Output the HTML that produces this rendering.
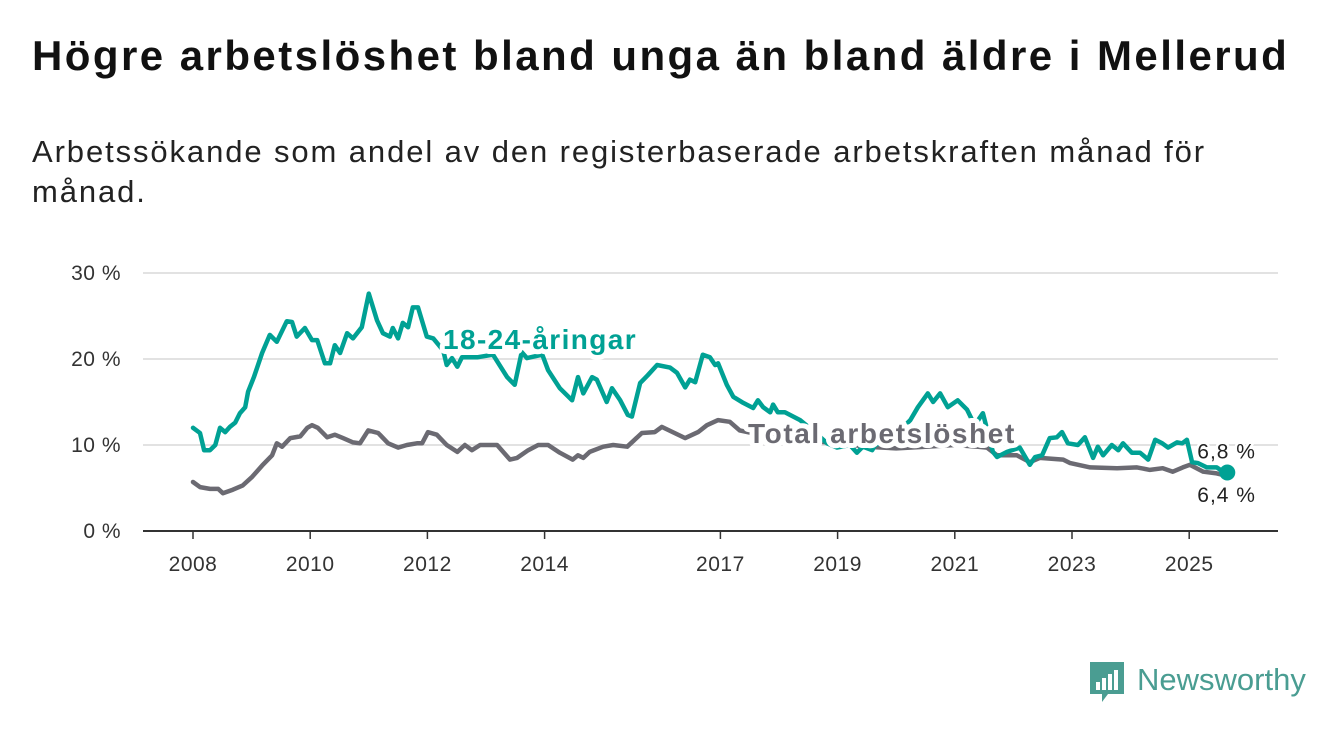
<!DOCTYPE html>
<html><head><meta charset="utf-8">
<style>
html,body{margin:0;padding:0;background:#fff;}
body{width:1340px;height:734px;overflow:hidden;position:relative;font-family:"Liberation Sans",sans-serif;color:#111;}
#title{position:absolute;left:32px;top:32px;font-size:42px;font-weight:bold;margin:0;letter-spacing:2.45px;white-space:nowrap;}
#subtitle{position:absolute;left:32px;top:132px;font-size:31px;line-height:40px;width:1300px;margin:0;color:#222;letter-spacing:1.9px;white-space:nowrap;}
svg{position:absolute;left:0;top:0;}
</style></head><body>
<h1 id="title">Högre arbetslöshet bland unga än bland äldre i Mellerud</h1>
<p id="subtitle">Arbetssökande som andel av den registerbaserade arbetskraften månad för<br>månad.</p>
<svg id="chart" width="1340" height="734"></svg>
<script>
const youthYears=[2008.00,2008.12,2008.19,2008.29,2008.38,2008.46,2008.55,2008.63,2008.72,2008.80,2008.89,2008.94,2009.04,2009.18,2009.31,2009.43,2009.60,2009.69,2009.77,2009.91,2010.03,2010.12,2010.25,2010.34,2010.42,2010.51,2010.63,2010.73,2010.88,2011.00,2011.14,2011.24,2011.36,2011.41,2011.50,2011.58,2011.67,2011.75,2011.84,2011.99,2012.10,2012.27,2012.33,2012.42,2012.51,2012.59,2012.85,2013.12,2013.36,2013.49,2013.61,2013.70,2013.96,2014.06,2014.26,2014.47,2014.57,2014.66,2014.81,2014.89,2015.06,2015.15,2015.29,2015.42,2015.49,2015.63,2015.76,2015.92,2016.14,2016.26,2016.40,2016.48,2016.57,2016.70,2016.82,2016.91,2016.96,2017.11,2017.22,2017.39,2017.56,2017.64,2017.73,2017.85,2017.90,2017.98,2018.10,2018.36,2018.61,2018.82,2018.99,2019.21,2019.33,2019.43,2019.59,2019.64,2019.93,2020.24,2020.37,2020.54,2020.63,2020.75,2020.88,2021.05,2021.21,2021.34,2021.48,2021.65,2021.72,2021.89,2022.11,2022.28,2022.37,2022.49,2022.62,2022.74,2022.83,2022.93,2023.10,2023.22,2023.36,2023.44,2023.53,2023.68,2023.79,2023.87,2024.02,2024.16,2024.30,2024.42,2024.54,2024.64,2024.79,2024.88,2024.96,2025.05,2025.15,2025.30,2025.47,2025.58,2025.65];
const youthValues=[12.0,11.4,9.4,9.4,10.0,12.0,11.5,12.1,12.6,13.7,14.4,16.2,17.9,20.7,22.8,22.0,24.4,24.3,22.6,23.6,22.2,22.2,19.5,19.5,21.6,20.7,23.0,22.4,23.7,27.6,24.5,23.0,22.6,23.6,22.4,24.2,23.7,26.0,26.0,22.6,22.4,21.0,19.3,20.1,19.1,20.2,20.2,20.5,17.9,17.0,20.8,20.1,20.5,18.7,16.6,15.2,17.9,16.0,17.9,17.6,15.0,16.6,15.2,13.5,13.3,17.2,18.1,19.3,19.0,18.4,16.7,17.6,17.3,20.5,20.2,19.3,19.5,17.0,15.6,14.9,14.3,15.2,14.4,13.8,14.7,13.8,13.8,12.9,11.5,10.2,9.7,10.0,9.1,9.8,9.4,10.0,10.8,12.9,14.4,16.0,15.0,16.0,14.4,15.2,14.1,12.3,13.7,9.2,8.6,9.2,9.7,7.7,8.6,8.8,10.8,10.9,11.5,10.2,10.0,10.9,8.5,9.8,8.8,10.0,9.4,10.2,9.1,9.1,8.3,10.6,10.2,9.7,10.3,10.2,10.6,8.0,7.9,7.4,7.4,6.9,6.8];
const totalYears=[2008.00,2008.12,2008.29,2008.43,2008.51,2008.68,2008.85,2009.01,2009.18,2009.35,2009.43,2009.52,2009.66,2009.83,2009.95,2010.03,2010.13,2010.29,2010.42,2010.56,2010.73,2010.85,2010.99,2011.16,2011.33,2011.50,2011.65,2011.82,2011.91,2012.01,2012.16,2012.33,2012.51,2012.64,2012.76,2012.90,2013.19,2013.41,2013.53,2013.72,2013.89,2014.06,2014.26,2014.48,2014.57,2014.66,2014.77,2015.00,2015.17,2015.41,2015.66,2015.88,2016.00,2016.40,2016.62,2016.77,2016.96,2017.16,2017.33,2017.6,2018.0,2018.5,2019.0,2019.5,2020.0,2020.5,2021.0,2021.4,2021.55,2021.72,2022.06,2022.28,2022.45,2022.85,2022.97,2023.31,2023.77,2024.11,2024.33,2024.55,2024.72,2024.89,2025.01,2025.24,2025.47,2025.65];
const totalValues=[5.7,5.1,4.9,4.9,4.4,4.8,5.3,6.3,7.6,8.8,10.2,9.8,10.8,11.0,12.0,12.3,12.0,10.9,11.2,10.8,10.3,10.2,11.7,11.4,10.2,9.7,10.0,10.2,10.2,11.5,11.2,10.0,9.2,10.0,9.4,10.0,10.0,8.3,8.5,9.4,10.0,10.0,9.1,8.3,8.8,8.5,9.2,9.8,10.0,9.8,11.4,11.5,12.1,10.8,11.5,12.3,12.9,12.7,11.7,11.3,10.8,10.5,10.2,9.8,9.6,9.8,10.0,9.8,9.7,8.8,8.8,8.0,8.5,8.3,7.9,7.4,7.3,7.4,7.1,7.3,6.9,7.4,7.7,6.9,6.7,6.4];
const yTicks=[0,10,20,30];
const yTickLabels=["0 %","10 %","20 %","30 %"];
const xTicks=[2008,2010,2012,2014,2017,2019,2021,2023,2025];
const lastYouthLabel="6,8 %";
const lastTotalLabel="6,4 %";

const NS="http://www.w3.org/2000/svg";
const svg=document.getElementById('chart');
const X0=143,X1=1278;
function xs(y){return 193+(y-2008)*58.6;}
function ys(v){return 531-v*8.6;}
function mk(t,a,parent){const e=document.createElementNS(NS,t);for(const k in a)e.setAttribute(k,a[k]);(parent||svg).appendChild(e);return e;}

yTicks.forEach((v,i)=>{
  const l=mk('line',{x1:X0,x2:X1,y1:ys(v),y2:ys(v),stroke:v===0?'#333':'#d8d8d8','stroke-width':v===0?2:1.5});
  
  
  const t=mk('text',{x:121,y:ys(v)+7,'text-anchor':'end','font-size':21,'letter-spacing':0.5,fill:'#333','font-family':'Liberation Sans, sans-serif'});
  t.textContent=yTickLabels[i];
  
  
});
xTicks.forEach(yr=>{
  const l=mk('line',{x1:xs(yr),x2:xs(yr),y1:531,y2:539,stroke:'#333','stroke-width':1.5});
  
  
  const t=mk('text',{x:xs(yr),y:571,'text-anchor':'middle','font-size':21,'letter-spacing':0.5,fill:'#333','font-family':'Liberation Sans, sans-serif'});
  t.textContent=yr;
  
  
});
function path(years,vals){return years.map((y,i)=>(i?'L':'M')+xs(y).toFixed(1)+','+ys(vals[i]).toFixed(1)).join('');}
const tp=mk('path',{d:path(totalYears,totalValues),fill:'none',stroke:'#6b6a72','stroke-width':4.5,'stroke-linejoin':'round','stroke-linecap':'round'});


const yp=mk('path',{d:path(youthYears,youthValues),fill:'none',stroke:'#00a194','stroke-width':4.5,'stroke-linejoin':'round','stroke-linecap':'round'});



function label(txt,x,y,col,ls,name){
  const t=mk('text',{x:x,y:y,'font-size':28,'font-weight':'bold','letter-spacing':ls,fill:col,stroke:'#fff','stroke-width':10,'stroke-linejoin':'round','paint-order':'stroke','font-family':'Liberation Sans, sans-serif'});
  t.textContent=txt;
  
  
}
label('18-24-åringar',443,349,'#00a194',1.4,'youth-series-label');
label('Total arbetslöshet',748,443,'#6b6a72',1.6,'total-series-label');

const ly=youthYears.length-1;
const dot=mk('circle',{cx:xs(youthYears[ly]),cy:ys(youthValues[ly]),r:8,fill:'#00a194'});


function endLabel(txt,v,dy,name){
  const t=mk('text',{x:xs(youthYears[ly])-30,y:ys(v)+dy,'font-size':21,'letter-spacing':1,fill:'#222',stroke:'#fff','stroke-width':5,'paint-order':'stroke','font-family':'Liberation Sans, sans-serif'});
  t.textContent=txt;
  
  
}
endLabel(lastYouthLabel,youthValues[ly],-14,'youth-end-value');
endLabel(lastTotalLabel,totalValues[totalValues.length-1],26,'total-end-value');

const g=mk('g',{});


mk('path',{d:'M1090,662 h34 v32 h-16 l-6,8 v-8 h-12 z',fill:'#4a9d92'},g);
[[1096,682,4],[1102,678,4],[1108,674,4],[1114,670,4]].forEach(b=>mk('rect',{x:b[0],y:b[1],width:b[2],height:690-b[1],fill:'#fff'},g));
const lt=mk('text',{x:1137,y:690,'font-size':31,fill:'#4a9d92','font-family':'Liberation Sans, sans-serif'},g);
lt.textContent='Newsworthy';
</script>
</body></html>
